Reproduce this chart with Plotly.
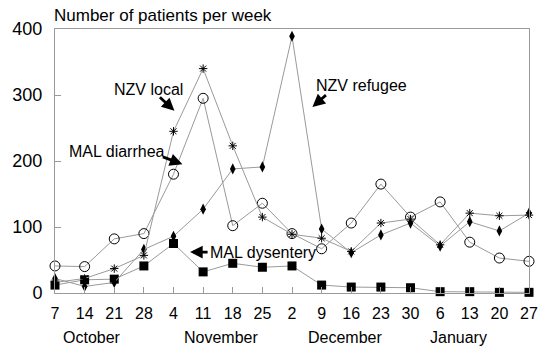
import plotly.graph_objects as go

week_labels = ["7", "14", "21", "28", "4", "11", "18", "25", "2", "9", "16", "23", "30", "6", "13", "20", "27"]
months = ["October", "November", "December", "January"]
month_pos = [1.26, 5.62, 9.79, 13.62]

nzv_local = [16, 22, 37, 57, 245, 340, 223, 115, 89, 83, 63, 106, 112, 73, 121, 117, 118]
nzv_refugee = [22, 10, 16, 66, 86, 127, 188, 191, 389, 97, 61, 88, 106, 71, 108, 94, 121]
mal_diarrhea = [41, 40, 82, 90, 180, 295, 102, 136, 90, 67, 106, 165, 115, 138, 77, 53, 48]
mal_dysentery = [12, 20, 21, 41, 75, 32, 45, 39, 41, 12, 9, 9, 8, 2, 2, 1, 1]

x = list(range(len(week_labels)))
FONT = "Liberation Sans, Arial, sans-serif"
LINE = "#9a9a9a"

fig = go.Figure()
fig.add_trace(go.Scatter(x=x, y=mal_dysentery, mode="lines+markers", name="MAL dysentery",
                         line=dict(color=LINE, width=1), cliponaxis=False,
                         marker=dict(symbol="square", size=9, color="black")))
fig.add_trace(go.Scatter(x=x, y=mal_diarrhea, mode="lines+markers", name="MAL diarrhea",
                         line=dict(color=LINE, width=1), cliponaxis=False,
                         marker=dict(symbol="circle-open", size=10, color="black", line=dict(width=1, color="black"))))
fig.add_trace(go.Scatter(x=x, y=nzv_refugee, mode="lines+markers", name="NZV refugee",
                         line=dict(color=LINE, width=1), cliponaxis=False,
                         marker=dict(symbol="diamond-tall", size=8, color="black")))
fig.add_trace(go.Scatter(x=x, y=nzv_local, mode="lines+markers", name="NZV local",
                         line=dict(color=LINE, width=1), cliponaxis=False,
                         marker=dict(symbol="asterisk-open", size=7, color="black", line=dict(width=1, color="black"))))

ann = []
# title
ann.append(dict(text="Number of patients per week", xref="paper", yref="paper", x=-0.006, y=1.053,
                xanchor="left", yanchor="middle", showarrow=False, font=dict(size=17, color="black", family=FONT)))
# month labels
for m, p in zip(months, month_pos):
    ann.append(dict(text=m, xref="x", yref="paper", x=p, y=-0.170, xanchor="center", yanchor="middle",
                    showarrow=False, font=dict(size=16, color="black", family=FONT)))
# series labels
labels = [("NZV local", 3.14, 309, "center"), ("MAL diarrhea", 2.08, 215, "center"),
          ("NZV refugee", 10.35, 315, "center"), ("MAL dysentery", 5.17, 62, "left")]
for t, lx, ly, xa in labels:
    ann.append(dict(text=t, x=lx, y=ly, xanchor=xa, yanchor="middle", showarrow=False,
                    font=dict(size=16, color="black", family=FONT)))
# arrows
arrows = [(4.03, 276, -16, -15), (4.30, 195, -21, -8), (8.69, 282, 15, -13), (4.56, 62, 19, 0)]
for ax_, ay_, dx, dy in arrows:
    ann.append(dict(text="", x=ax_, y=ay_, ax=dx, ay=dy, showarrow=True, arrowhead=2,
                    arrowsize=0.9, arrowwidth=2.8, arrowcolor="black", standoff=0, startstandoff=0))

fig.update_layout(
    width=550, height=352,
    margin=dict(l=52, r=13, t=29, b=59),
    paper_bgcolor="white", plot_bgcolor="white",
    showlegend=False,
    annotations=ann,
    font=dict(family=FONT, color="black"),
)
fig.update_xaxes(range=[0, 16], tickmode="array", tickvals=x, ticktext=week_labels,
                 showgrid=False, zeroline=False, showline=True, linecolor=LINE, linewidth=1, mirror=True,
                 ticks="inside", ticklen=6, tickcolor=LINE, tickfont=dict(size=16, family=FONT, color="black"),
                 ticklabelstandoff=6)
fig.update_yaxes(range=[0, 400], tickvals=[0, 100, 200, 300, 400],
                 showgrid=False, zeroline=False, showline=True, linecolor=LINE, linewidth=1, mirror=True,
                 ticks="inside", ticklen=6, tickcolor=LINE, tickfont=dict(size=18, family=FONT, color="black"),
                 ticklabelstandoff=8)

fig.write_html("out.html")
